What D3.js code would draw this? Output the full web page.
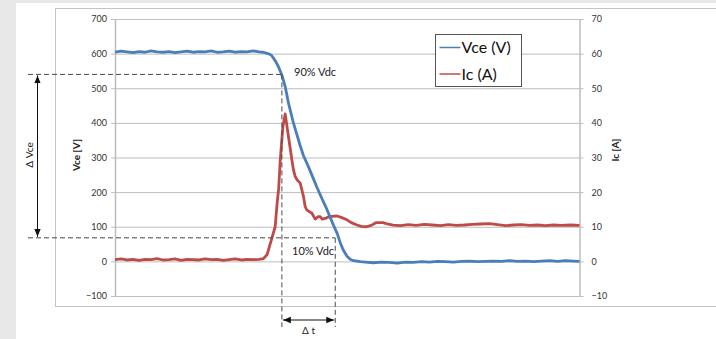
<!DOCTYPE html>
<html>
<head>
<meta charset="utf-8">
<script src="https://cdn.jsdelivr.net/npm/d3@7/dist/d3.min.js"></script>
<style>
  html, body { margin: 0; padding: 0; background: #e8e8e8; }
  #chart { position: absolute; left: 16px; top: 3px; width: 700px; height: 336px; background: #fff; }
  svg { position: absolute; left: 0; top: 0; font-family: Lato, "Open Sans", sans-serif; }
</style>
</head>
<body>
<div id="chart"></div>
<svg id="svg" width="716" height="339"></svg>
<script>
// time in sample units (no time axis labels in the original)
const vceTime = [0,6,12,18,24,30,36,42,48,54,60,66,72,78,84,90,96,102,108,114,120,126,132,138,144,148,
  152,156,158.3,161,163.3,166.7,170,173.3,178.3,185,188.3,193.3,197,201.7,206,211.7,218.3,222,225,228,231.7,235,238.3,
  245,250,258,266,274,282,290,298,306,314,322,330,338,346,354,362,370,378,386,394,402,410,418,426,434,442,450,458,464];
const vceValues = [604,607,605,603,606,604,608,605,604,606,603,605,607,604,606,605,608,604,605,607,604,606,605,608,605,604,
  601,596,587,575,562,538,505,457,399,334,305,273,247,214,186,150,104,80,54,33,15,6,2,
  -1,-2,-4,-2,-3,-5,-2,-3,-1,-2,0,-1,-2,0,1,-1,0,1,0,2,0,1,-1,1,2,0,2,1,0];

const icTime = [0,6,12,18,24,30,36,42,48,54,60,66,72,78,84,90,96,102,108,114,120,126,132,138,144,148.3,
  152,156.7,160,162,163.5,165,167.7,170,173.3,176.7,178.3,180,182,185,188.3,190,191.7,196.7,200,203,205,207,210,212,216,221.7,226,231.7,236,241.7,
  246,251,256,261,267.7,272,277.7,285,293,301,309,317,325,333,341,349,357,365,374,382,390,398,406,414,422,430,438,446,455,464];
const icValues = [0.5,0.7,0.4,0.6,0.3,0.6,0.5,0.8,0.4,0.5,0.7,0.3,0.6,0.5,0.4,0.7,0.5,0.6,0.3,0.5,0.7,0.4,0.6,0.5,0.6,0.8,
  2,6.7,10,17,21,29,38.9,42.6,36,29.3,26.4,24.5,23.5,22.6,18.7,15.8,14.8,13.9,12.2,12.9,12.9,12.2,12.4,12.7,13,13.1,12.7,12,11.2,10.5,
  10.1,10,10.4,11.2,11.2,10.8,10.5,10.3,10.6,10.4,10.7,10.5,10.3,10.6,10.4,10.5,10.7,10.8,10.9,10.6,10.3,10.5,10.6,10.4,10.5,10.3,10.5,10.4,10.5,10.4];

const vceTicks = [-100,0,100,200,300,400,500,600,700];
const icTicks = [-10,0,10,20,30,40,50,60,70];
const seriesNames = ["Vce (V)", "Ic (A)"];
const seriesColors = ["#4a7ebb", "#be4b48"];

// annotation levels: 90% / 10% of Vdc and the matching times
const levels = [540, 68];
const levelTimes = [166.7, 220];

const svg = d3.select("#svg");
const plotLeft = 115, plotRight = 579.5, plotTop = 19, plotBottom = 296;

const x = d3.scaleLinear().domain([0, 464]).range([plotLeft, plotRight]);
const yV = d3.scaleLinear().domain([-100, 700]).range([plotBottom, plotTop]);
const yI = d3.scaleLinear().domain([-10, 70]).range([plotBottom, plotTop]);

// chart area border
svg.append("rect").attr("x", 55.5).attr("y", 8.5).attr("width", 700).attr("height", 298)
  .attr("fill", "none").attr("stroke", "#c4c4c4").attr("stroke-width", 1);

// gridlines
svg.append("g")
  .attr("transform", "translate(" + plotLeft + ",0)")
  .call(d3.axisLeft(yV).tickValues(vceTicks).tickSize(-(plotRight - plotLeft)).tickFormat(""))
  .call(g => g.select(".domain").remove())
  .call(g => g.selectAll("line").attr("stroke", "#bdbdbd"));

// left axis
svg.append("g")
  .attr("transform", "translate(" + plotLeft + ",0)")
  .call(d3.axisLeft(yV).tickValues(vceTicks).tickSize(4).tickSizeOuter(0).tickPadding(4))
  .call(g => g.select(".domain").attr("stroke", "#bdbdbd").attr("stroke-width", 1.5))
  .call(g => g.selectAll("line").attr("stroke", "#bdbdbd"))
  .call(g => g.selectAll("text").attr("fill", "#333").style("font-size", "9px").style("font-family", "Lato, sans-serif"));

// right axis
svg.append("g")
  .attr("transform", "translate(" + plotRight + ",0)")
  .call(d3.axisRight(yI).tickValues(icTicks).tickSize(4).tickSizeOuter(0).tickPadding(8))
  .call(g => g.select(".domain").attr("stroke", "#bdbdbd").attr("stroke-width", 1.5))
  .call(g => g.selectAll("line").attr("stroke", "#bdbdbd"))
  .call(g => g.selectAll("text").attr("fill", "#333").style("font-size", "9px").style("font-family", "Lato, sans-serif"));

// axis titles
svg.append("text").attr("transform", "translate(80,155) rotate(-90)")
  .attr("text-anchor", "middle").style("font-size", "10px").style("font-weight", "bold").attr("fill", "#222")
  .text("Vce [V]");
svg.append("text").attr("transform", "translate(619,150) rotate(-90)")
  .attr("text-anchor", "middle").style("font-size", "10px").style("font-weight", "bold").attr("fill", "#222")
  .text("Ic [A]");

// data lines
const vceLine = d3.line().x((d, i) => x(vceTime[i])).y(d => yV(d));
const icLine = d3.line().x((d, i) => x(icTime[i])).y(d => yI(d));

svg.append("path").datum(icValues).attr("d", icLine)
  .attr("fill", "none").attr("stroke", seriesColors[1]).attr("stroke-width", 2.8).attr("stroke-linejoin", "round");
svg.append("path").datum(vceValues).attr("d", vceLine)
  .attr("fill", "none").attr("stroke", seriesColors[0]).attr("stroke-width", 2.8).attr("stroke-linejoin", "round");

// annotations
const defs = svg.append("defs");
defs.append("marker").attr("id", "arr").attr("viewBox", "0 0 10 10").attr("refX", 10).attr("refY", 5)
  .attr("markerWidth", 8).attr("markerHeight", 8).attr("orient", "auto-start-reverse")
  .append("path").attr("d", "M0,1L10,5L0,9z").attr("fill", "#111");

const dash = "5,3";
const annColor = "#4a4a4a";
const bottomDash = 327;

levels.forEach((lv, i) => {
  svg.append("line").attr("x1", 28).attr("x2", x(levelTimes[i]))
    .attr("y1", yV(lv)).attr("y2", yV(lv))
    .attr("stroke", annColor).attr("stroke-dasharray", dash).attr("stroke-width", 1);
  svg.append("line").attr("x1", x(levelTimes[i])).attr("x2", x(levelTimes[i]))
    .attr("y1", yV(lv)).attr("y2", bottomDash)
    .attr("stroke", annColor).attr("stroke-dasharray", dash).attr("stroke-width", 1);
});

// delta Vce arrow
svg.append("line").attr("x1", 37.5).attr("x2", 37.5)
  .attr("y1", yV(levels[0]) + 1).attr("y2", yV(levels[1]) - 1)
  .attr("stroke", "#111").attr("stroke-width", 1)
  .attr("marker-start", "url(#arr)").attr("marker-end", "url(#arr)");
svg.append("text").attr("transform", "translate(33,155) rotate(-90)")
  .attr("text-anchor", "middle").style("font-size", "10px").attr("fill", "#222")
  .text("\u0394 Vce");

// delta t arrow
svg.append("line").attr("x1", x(levelTimes[0]) + 1).attr("x2", x(levelTimes[1]) - 1)
  .attr("y1", 320).attr("y2", 320)
  .attr("stroke", "#111").attr("stroke-width", 1)
  .attr("marker-start", "url(#arr)").attr("marker-end", "url(#arr)");
svg.append("text").attr("x", (x(levelTimes[0]) + x(levelTimes[1])) / 2).attr("y", 334)
  .attr("text-anchor", "middle").style("font-size", "10px").attr("fill", "#222")
  .text("\u0394 t");

svg.append("text").attr("x", 294).attr("y", 76).style("font-size", "11px").attr("fill", "#222").text("90% Vdc");
svg.append("text").attr("x", 292).attr("y", 255).style("font-size", "11px").attr("fill", "#222").text("10% Vdc");

// legend
const lg = svg.append("g").attr("transform", "translate(435.5,34.5)");
lg.append("rect").attr("width", 86).attr("height", 52).attr("fill", "#fff").attr("stroke", "#555").attr("stroke-width", 1);
seriesNames.forEach((name, i) => {
  const yy = 13 + i * 26.5;
  lg.append("line").attr("x1", 4).attr("x2", 25).attr("y1", yy).attr("y2", yy)
    .attr("stroke", seriesColors[i]).attr("stroke-width", 1.5);
  lg.append("text").attr("x", 26).attr("y", yy + 5.5).style("font-size", "16px").attr("fill", "#111").text(name);
});
</script>
</body>
</html>
